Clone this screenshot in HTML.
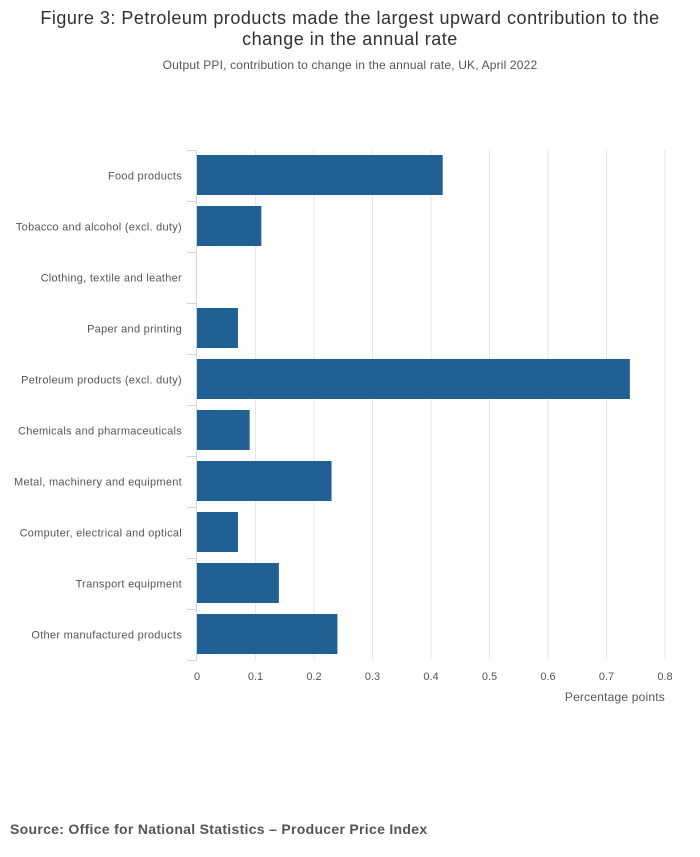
<!DOCTYPE html>
<html><head><meta charset="utf-8">
<style>
body{margin:0;background:#fff;font-family:"Liberation Sans",sans-serif;}
#wrap{position:relative;width:700px;height:857px;overflow:hidden;}
</style></head>
<body>
<div id="wrap">
<svg id="chart" width="700" height="857" xmlns="http://www.w3.org/2000/svg">
<text x="350" y="24" text-anchor="middle" font-size="18" letter-spacing="0.5" fill="#323132">Figure 3: Petroleum products made the largest upward contribution to the</text>
<text x="350" y="45" text-anchor="middle" font-size="18" letter-spacing="0.5" fill="#323132">change in the annual rate</text>
<text x="350" y="69" text-anchor="middle" font-size="12" letter-spacing="0.17" fill="#555">Output PPI, contribution to change in the annual rate, UK, April 2022</text>
<g id="grid"></g>
<g id="bars"></g>
<g id="axes"></g>
<text x="665" y="701" text-anchor="end" font-size="12" letter-spacing="0.2" fill="#555">Percentage points</text>
<text x="10" y="834" font-size="14" font-weight="bold" letter-spacing="0.3" fill="#555">Source: Office for National Statistics – Producer Price Index</text>
</svg>
</div>
<script>
const categories=["Food products","Tobacco and alcohol (excl. duty)","Clothing, textile and leather","Paper and printing","Petroleum products (excl. duty)","Chemicals and pharmaceuticals","Metal, machinery and equipment","Computer, electrical and optical","Transport equipment","Other manufactured products"];
const values=[0.42,0.11,0,0.07,0.74,0.09,0.23,0.07,0.14,0.24];
const ticks=[0,0.1,0.2,0.3,0.4,0.5,0.6,0.7,0.8];
const tickLabels=["0","0.1","0.2","0.3","0.4","0.5","0.6","0.7","0.8"];

const NS="http://www.w3.org/2000/svg";
const x0=197,x1=665,yTop=150,yBot=660;
const xMin=0,xMax=0.8;
const xs=v=>x0+(v-xMin)/(xMax-xMin)*(x1-x0);
const band=(yBot-yTop)/categories.length;
const ys=i=>yTop+i*band;
function mk(tag,attrs,parent){const e=document.createElementNS(NS,tag);for(const k in attrs)e.setAttribute(k,attrs[k]);parent.appendChild(e);return e;}
const grid=document.getElementById('grid'),bars=document.getElementById('bars'),axes=document.getElementById('axes');
ticks.forEach((t,i)=>{
  const X=xs(t);
  if(i>0){const l=mk('line',{x1:X,x2:X,y1:yTop,y2:yBot,stroke:'#e6e6e6','stroke-width':1},grid);
  
  }
  const tx=mk('text',{x:X,y:680,'text-anchor':'middle','font-size':11,fill:'#555'},axes);
  tx.textContent=tickLabels[i];
  
  
});
const ax=mk('line',{x1:x0-0.5,x2:x0-0.5,y1:yTop,y2:yBot,stroke:'#ccd6eb','stroke-width':1},axes);


for(let i=0;i<=categories.length;i++){
  const Y=ys(i)+0.5;
  const tk=mk('line',{x1:x0-10,x2:x0,y1:Y,y2:Y,stroke:'#ccd6eb','stroke-width':1},axes);
  
  
}
categories.forEach((c,i)=>{
  const Y=ys(i);
  const w=xs(values[i])-xs(0);
  const r=mk('rect',{x:xs(0),y:Y+5,width:Math.max(0,w),height:band-11,fill:'#206095'},bars);
  
  
  const t=mk('text',{x:182,y:Y+band/2+4,'text-anchor':'end','font-size':11,'letter-spacing':0.28,fill:'#555'},axes);
  t.textContent=c;
  
  
});
</script>
</body></html>
